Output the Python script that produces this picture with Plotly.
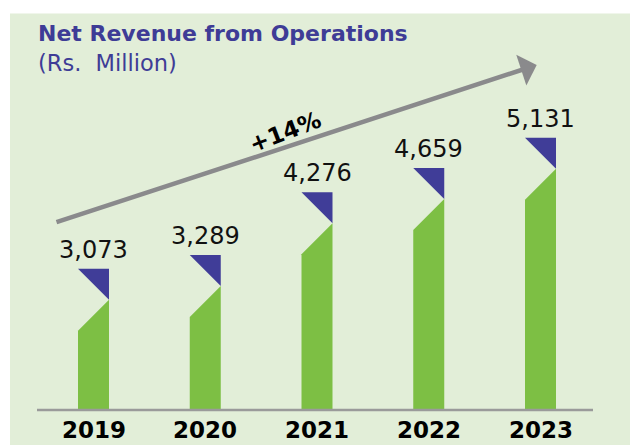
import plotly.graph_objects as go

# ---- data ----
years = ["2019", "2020", "2021", "2022", "2023"]
revenue = [3073, 3289, 4276, 4659, 5131]
value_labels = ["3,073", "3,289", "4,276", "4,659", "5,131"]
cagr_label = "+14%"
title_text = "Net Revenue from Operations"
subtitle_text = "(Rs.  Million)"

# ---- styling / layout constants ----
W, H = 630, 445
FONT = "DejaVu Sans"
PANEL = "#E2EED8"
GREEN = "#7DBF44"
NAVY = "#403D98"
TITLE_C = "#3E3C96"
GREY = "#8A8A8C"

# pixel geometry of the axes (plot area = full figure)
x0_px, step_px = 93.5, 111.75          # centre of first category, spacing
base_px = 410                          # baseline pixel row
px_per_unit = 0.06364                  # vertical scale
base_val = 1342                        # axis value at baseline
half_w_px = 15.5                       # half bar width
cut_px = 31                            # slant / triangle size

x_range = [-x0_px / step_px, (W - x0_px) / step_px]
y_range = [base_val - (H - base_px) / px_per_unit, base_val + base_px / px_per_unit]
hw = half_w_px / step_px
cut = cut_px / px_per_unit

fig = go.Figure()

for i, v in enumerate(revenue):
    xs = [i - hw, i + hw, i + hw, i - hw, i - hw]
    ys = [base_val, base_val, v, v - cut, base_val]
    fig.add_trace(go.Scatter(x=xs, y=ys, mode="lines", fill="toself",
                             fillcolor=GREEN, line=dict(width=0, color=GREEN),
                             hoverinfo="skip", showlegend=False))
    txs = [i - hw, i + hw, i + hw, i - hw]
    tys = [v + cut, v + cut, v, v + cut]
    fig.add_trace(go.Scatter(x=txs, y=tys, mode="lines", fill="toself",
                             fillcolor=NAVY, line=dict(width=0, color=NAVY),
                             hoverinfo="skip", showlegend=False))
    fig.add_annotation(x=i, y=v + cut, xref="x", yref="y", text=value_labels[i],
                       showarrow=False, yanchor="bottom", yshift=3,
                       font=dict(family=FONT, size=24, color="#111111"))
    fig.add_annotation(x=i, y=base_val, xref="x", yref="y", text="<b>%s</b>" % years[i],
                       showarrow=False, yanchor="top", yshift=-5,
                       font=dict(family=FONT, size=23, color="#000000"))

# background panel
fig.add_shape(type="rect", xref="paper", yref="paper", x0=10 / W, x1=1, y0=0, y1=1 - 13.5 / H,
              fillcolor=PANEL, line=dict(width=0), layer="below")
# baseline
fig.add_shape(type="line", xref="paper", yref="y", x0=37 / W, x1=593 / W, y0=base_val, y1=base_val,
              line=dict(color="#9A9A9A", width=2.5))

# growth arrow
fig.add_annotation(x=536.7 / W, y=1 - 65 / H, xref="paper", yref="paper", text="",
                   showarrow=True, ax=55 - 536.7, ay=222.7 - 65, axref="pixel", ayref="pixel",
                   arrowhead=1, arrowsize=1.2, arrowwidth=4.5, arrowcolor=GREY, standoff=0)
fig.add_annotation(x=285 / W, y=1 - 132 / H, xref="paper", yref="paper",
                   xanchor="center", yanchor="middle",
                   text="<b>%s</b>" % cagr_label, showarrow=False, textangle=-21,
                   font=dict(family=FONT, size=23, color="#000000"))

# titles
fig.add_annotation(x=36 / W, y=1 - 34 / H, xref="paper", yref="paper", text="<b>%s</b>" % title_text,
                   showarrow=False, xanchor="left", yanchor="middle",
                   font=dict(family=FONT, size=22, color=TITLE_C))
fig.add_annotation(x=36 / W, y=1 - 63 / H, xref="paper", yref="paper", text=subtitle_text,
                   showarrow=False, xanchor="left", yanchor="middle",
                   font=dict(family=FONT, size=22.5, color=TITLE_C))

fig.update_layout(
    width=W, height=H, margin=dict(l=0, r=0, t=0, b=0),
    paper_bgcolor="white", plot_bgcolor="rgba(0,0,0,0)",
    xaxis=dict(range=x_range, visible=False, fixedrange=True),
    yaxis=dict(range=y_range, visible=False, fixedrange=True),
    showlegend=False,
)

fig.write_html("out.html", config={"displayModeBar": False},
               post_script="document.body.style.margin='0';document.body.style.overflow='hidden';")
